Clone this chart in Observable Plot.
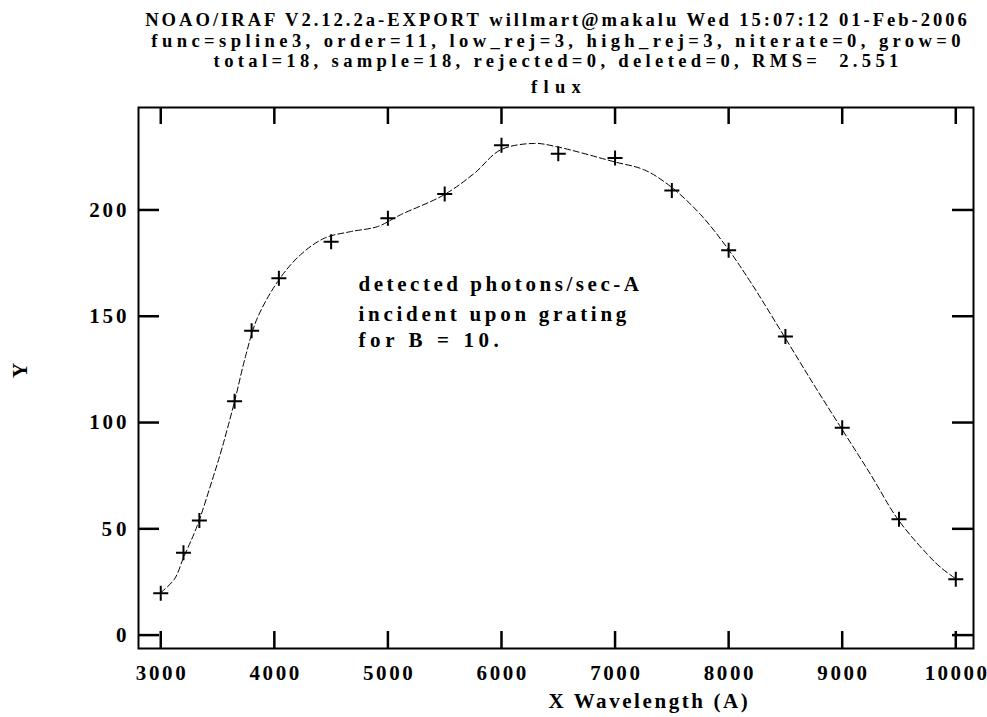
<!DOCTYPE html>
<html>
<head>
<meta charset="utf-8">
<script src="https://cdn.jsdelivr.net/npm/d3@7"></script>
<script src="https://cdn.jsdelivr.net/npm/@observablehq/plot@0.6"></script>
<style>
  html, body { margin: 0; padding: 0; background: #fff; }
  svg text { white-space: pre; font-family: "Liberation Serif", "DejaVu Serif", serif !important; font-weight: bold; }
</style>
</head>
<body>
<div id="chart"></div>
<script>
// Header lines written by the IRAF plotting task
const titleLines = [
  "NOAO/IRAF V2.12.2a-EXPORT willmart@makalu Wed 15:07:12 01-Feb-2006",
  "func=spline3, order=11, low_rej=3, high_rej=3, niterate=0, grow=0",
  "total=18, sample=18, rejected=0, deleted=0, RMS=  2.551",
  "flux"
];
const noteLines = [
  "detected photons/sec-A",
  "incident upon grating",
  "for B = 10."
];
const xLabel = "X Wavelength (A)";
const yLabel = "Y";

// Measured sample points (wavelength in A, flux)
const waveX = [3000, 3200, 3340, 3650, 3800, 4040, 4500, 5000, 5500, 6000, 6500, 7000, 7500, 8000, 8500, 9000, 9500, 10000];
const fluxY = [19.7, 38.8, 53.9, 110.0, 143.2, 167.9, 185.1, 196.1, 207.5, 230.5, 226.4, 224.5, 209.2, 181.0, 140.5, 97.5, 54.5, 26.3];

// spline3 fit, sampled along the fitted curve
const fitX = [3000, 3120, 3200, 3320, 3450, 3540, 3650, 3750, 3850, 4040, 4230, 4440, 4670, 4910, 5110, 5490, 5760, 5990, 6290, 6490, 6990, 7260, 7490, 7750, 7990, 8200, 8490, 8750, 8990, 9250, 9490, 9750, 9870, 10000];
const fitY = [20.0, 26.3, 36.4, 51.3, 72.4, 88.1, 110.0, 131.9, 149.1, 167.1, 178.9, 186.7, 189.8, 192.2, 197.7, 207.0, 217.2, 228.2, 231.3, 229.7, 222.7, 218.8, 211.0, 198.0, 182.0, 165.5, 140.5, 117.8, 97.5, 75.6, 54.5, 38.0, 31.7, 26.5];

// Axis ticks
const xTicks = [3000, 4000, 5000, 6000, 7000, 8000, 9000, 10000];
const yTicks = [0, 50, 100, 150, 200];

const points = waveX.map((x, i) => ({x, y: fluxY[i]}));
const fit = fitX.map((x, i) => ({x, y: fitY[i]}));

const W = 987, H = 717;
const mTop = 107, mRight = 14, mBottom = 69, mLeft = 138;
const innerW = W - mLeft - mRight;
const innerH = H - mTop - mBottom;

// thin "+" marker, as drawn by IRAF
const cross = {
  draw(context, size) {
    const r = Math.sqrt(size / Math.PI);
    context.moveTo(-r, 0); context.lineTo(r, 0);
    context.moveTo(0, -r); context.lineTo(0, r);
  }
};

const font = "Liberation Serif";
const big = 21, small = 18.6;
const txt = {fontFamily: font, fontWeight: "bold", fill: "black"};

const plot = Plot.plot({
  width: W,
  height: H,
  marginTop: mTop,
  marginRight: mRight,
  marginBottom: mBottom,
  marginLeft: mLeft,
  style: {fontFamily: font, fontWeight: "bold", color: "black", background: "white"},
  x: {domain: [2804, 10156], axis: null},
  y: {domain: [-6.3, 248.2], axis: null},
  marks: [
    Plot.frame({stroke: "black", strokeWidth: 2}),
    // inward ticks on all four sides
    Plot.tickX(xTicks, {x: d => d, insetTop: innerH - 17, stroke: "black", strokeWidth: 2.5}),
    Plot.tickX(xTicks, {x: d => d, insetBottom: innerH - 17, stroke: "black", strokeWidth: 2.5}),
    Plot.tickY(yTicks, {y: d => d, insetRight: innerW - 21, stroke: "black", strokeWidth: 2.5}),
    Plot.tickY(yTicks, {y: d => d, insetLeft: innerW - 21, stroke: "black", strokeWidth: 2.5}),
    // tick labels
    Plot.text(xTicks, {...txt, x: d => d, text: d => String(d), frameAnchor: "bottom", lineAnchor: "bottom", dy: 31, fontSize: big}),
    Plot.text(yTicks, {...txt, y: d => d, text: d => String(d), frameAnchor: "left", textAnchor: "end", lineAnchor: "middle", dx: -12, fontSize: big}),
    // axis labels
    Plot.text([xLabel], {...txt, text: d => d, frameAnchor: "bottom", textAnchor: "start", lineAnchor: "bottom", dx: -7.5, dy: 59, fontSize: big}),
    Plot.text([yLabel], {...txt, text: d => d, frameAnchor: "left", lineAnchor: "middle", rotate: -90, dx: -118, fontSize: big}),
    // header
    ...titleLines.map((t, i) => Plot.text([t], {...txt, text: d => d, frameAnchor: "top", lineAnchor: "bottom", dy: [-82, -61, -41, -15][i], fontSize: small})),
    // annotation
    ...noteLines.map((t, i) => Plot.text([t], {...txt, text: d => d, frameAnchor: "top-left", textAnchor: "start", lineAnchor: "bottom", dx: 220, dy: [183, 213, 239][i], fontSize: big})),
    // fitted function
    Plot.line(fit, {x: "x", y: "y", curve: "catmull-rom", stroke: "black", strokeWidth: 1, strokeDasharray: "6,3"}),
    // data
    Plot.dot(points, {x: "x", y: "y", symbol: cross, r: 7.5, stroke: "black", strokeWidth: 2, fill: "none"})
  ]
});

// fixed character pitch, like the IRAF plot fonts
plot.querySelectorAll("text").forEach(el => {
  const s = el.textContent;
  if (!s) return;
  const pitch = noteLines.includes(s) ? 12.75 : 12.45;
  el.setAttribute("textLength", (s.length * pitch).toFixed(1));
  el.setAttribute("lengthAdjust", "spacing");
});

document.getElementById("chart").append(plot);
</script>
</body>
</html>
